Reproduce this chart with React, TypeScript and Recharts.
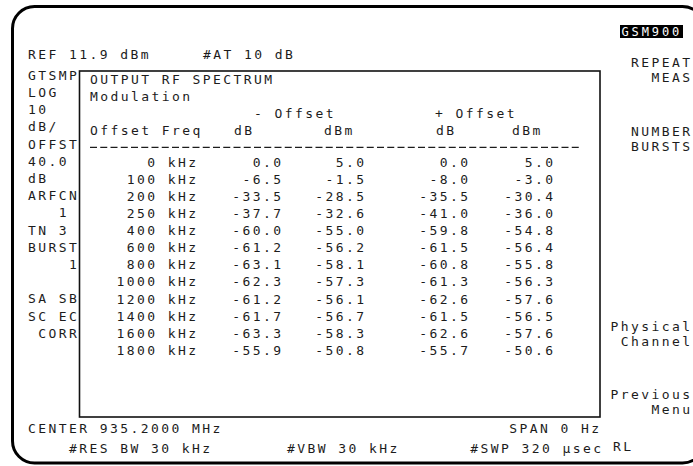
import { ComposedChart, Line, XAxis, YAxis, Customized } from 'recharts'

// output RF spectrum table, GSM900, modulation part
const FREQ_KHZ = [0, 100, 200, 250, 400, 600, 800, 1000, 1200, 1400, 1600, 1800]
const MINUS_DB = [0.0, -6.5, -33.5, -37.7, -60.0, -61.2, -63.1, -62.3, -61.2, -61.7, -63.3, -55.9]
const MINUS_DBM = [5.0, -1.5, -28.5, -32.6, -55.0, -56.2, -58.1, -57.3, -56.1, -56.7, -58.3, -50.8]
const PLUS_DB = [0.0, -8.0, -35.5, -41.0, -59.8, -61.5, -60.8, -61.3, -62.6, -61.5, -62.6, -55.7]
const PLUS_DBM = [5.0, -3.0, -30.4, -36.0, -54.8, -56.4, -55.8, -56.3, -57.6, -56.5, -57.6, -50.6]

const LEFT_LABELS = ['GTSMP', 'LOG', '10', 'dB/', 'OFFST', '40.0', 'dB', 'ARFCN', '   1', 'TN 3', 'BURST', '    1', '', 'SA SB', 'SC EC', ' CORR']
const SOFTKEYS = [['REPEAT', 'MEAS'], ['NUMBER', 'BURSTS'], ['Physical', 'Channel'], ['Previous', 'Menu']]

const W = 693
const H = 466
const CW = 10.25
const BASE = 4.7
const LINE0 = 75
const PITCH = 17.2
const lineY = (i: number) => LINE0 + PITCH * i
// the table header sits a little lower than the side annotations
const HEAD_SHIFT = 4

const FONT = {
  fontFamily: '"DejaVu Sans Mono", monospace',
  fontSize: 13,
  letterSpacing: 2.42,
  whiteSpace: 'pre' as const,
  fill: '#1c1c1c',
}

// x of a string whose ink should end at `right`
const rightX = (right: number, s: string) => right - 6.7 - (s.length - 1) * CW

const COL_RIGHT: Record<string, number> = { freq: 195, mdb: 280, mdbm: 363, pdb: 467, pdbm: 552 }
const SOFTKEY_Y = [62, 131, 326, 394]

const rows = FREQ_KHZ.map((f, i) => ({
  label: `${f}`,
  freq: f,
  mdb: MINUS_DB[i],
  mdbm: MINUS_DBM[i],
  pdb: PLUS_DB[i],
  pdbm: PLUS_DBM[i],
}))

function T({ x, y, s, style }: { x: number; y: number; s: string; style?: object }) {
  return (
    <text x={x} y={y + BASE} style={{ ...FONT, ...style }}>
      {s}
    </text>
  )
}

function cellDot(key: string) {
  // eslint-disable-next-line @typescript-eslint/no-explicit-any
  return (props: any) => {
    const { cy, payload, index } = props
    const s = key === 'freq' ? `${payload.freq} kHz` : Number(payload[key]).toFixed(1)
    return <T key={`${key}-${index}`} x={rightX(COL_RIGHT[key], s)} y={cy} s={s} />
  }
}

function Screen() {
  const hy = (i: number) => lineY(i) + HEAD_SHIFT
  return (
    <g>
      {/* crt bezel */}
      <rect x={12.5} y={6.5} width={692} height={456.5} rx={22} ry={22} fill="none" stroke="#000" strokeWidth={3} />

      <T x={28} y={54} s="REF 11.9 dBm" />
      <T x={203} y={54} s="#AT 10 dB" />

      {LEFT_LABELS.map((s, i) => (
        <T key={i} x={28} y={lineY(i)} s={s} />
      ))}

      {/* table box */}
      <rect x={79.5} y={71} width={520.5} height={346} fill="none" stroke="#111" strokeWidth={1.6} />
      <T x={90} y={hy(0)} s="OUTPUT RF SPECTRUM" />
      <T x={90} y={hy(1)} s="Modulation" />
      <T x={254} y={hy(2)} s="- Offset" />
      <T x={435} y={hy(2)} s="+ Offset" />
      <T x={90} y={hy(3)} s="Offset Freq" />
      <T x={234} y={hy(3)} s="dB" />
      <T x={324} y={hy(3)} s="dBm" />
      <T x={436} y={hy(3)} s="dB" />
      <T x={512} y={hy(3)} s="dBm" />
      <line x1={90} x2={580} y1={hy(4) - 0.5} y2={hy(4) - 0.5} stroke="#1c1c1c" strokeWidth={1.2} strokeDasharray="7 3.25" />

      {/* softkeys */}
      <rect x={620} y={25} width={63} height={13} fill="#000" />
      <text x={621.5} y={35.5} style={{ ...FONT, fontSize: 12, letterSpacing: 2.9, fill: '#fff' }}>GSM900</text>
      {SOFTKEYS.map((pair, k) =>
        pair.map((s, j) => <T key={`${k}-${j}`} x={rightX(689, s)} y={SOFTKEY_Y[k] + j * 15} s={s} />),
      )}

      <T x={28} y={428} s="CENTER 935.2000 MHz" />
      <T x={69} y={448} s="#RES BW 30 kHz" />
      <T x={287} y={448} s="#VBW 30 kHz" />
      <T x={rightX(598, 'SPAN 0 Hz')} y={428} s="SPAN 0 Hz" />
      <T x={rightX(600, '#SWP 320 μsec')} y={448} s="#SWP 320 μsec" />
      <T x={613} y={446} s="RL" />
    </g>
  )
}

export default function App() {
  return (
    <div style={{ position: 'absolute', left: 0, top: 0, width: W, height: H, background: '#fff' }}>
      <ComposedChart
        width={W}
        height={H}
        data={rows}
        layout="vertical"
        margin={{ top: lineY(5) + 1, bottom: H - lineY(16), left: 0, right: 0 }}
      >
        <XAxis type="number" hide domain={['dataMin', 'dataMax']} />
        <YAxis type="category" dataKey="label" scale="point" hide />
        {['freq', 'mdb', 'mdbm', 'pdb', 'pdbm'].map(key => (
          <Line
            key={key}
            dataKey={key}
            stroke="none"
            dot={cellDot(key)}
            activeDot={false}
            isAnimationActive={false}
          />
        ))}
        <Customized component={Screen} />
      </ComposedChart>
    </div>
  )
}
